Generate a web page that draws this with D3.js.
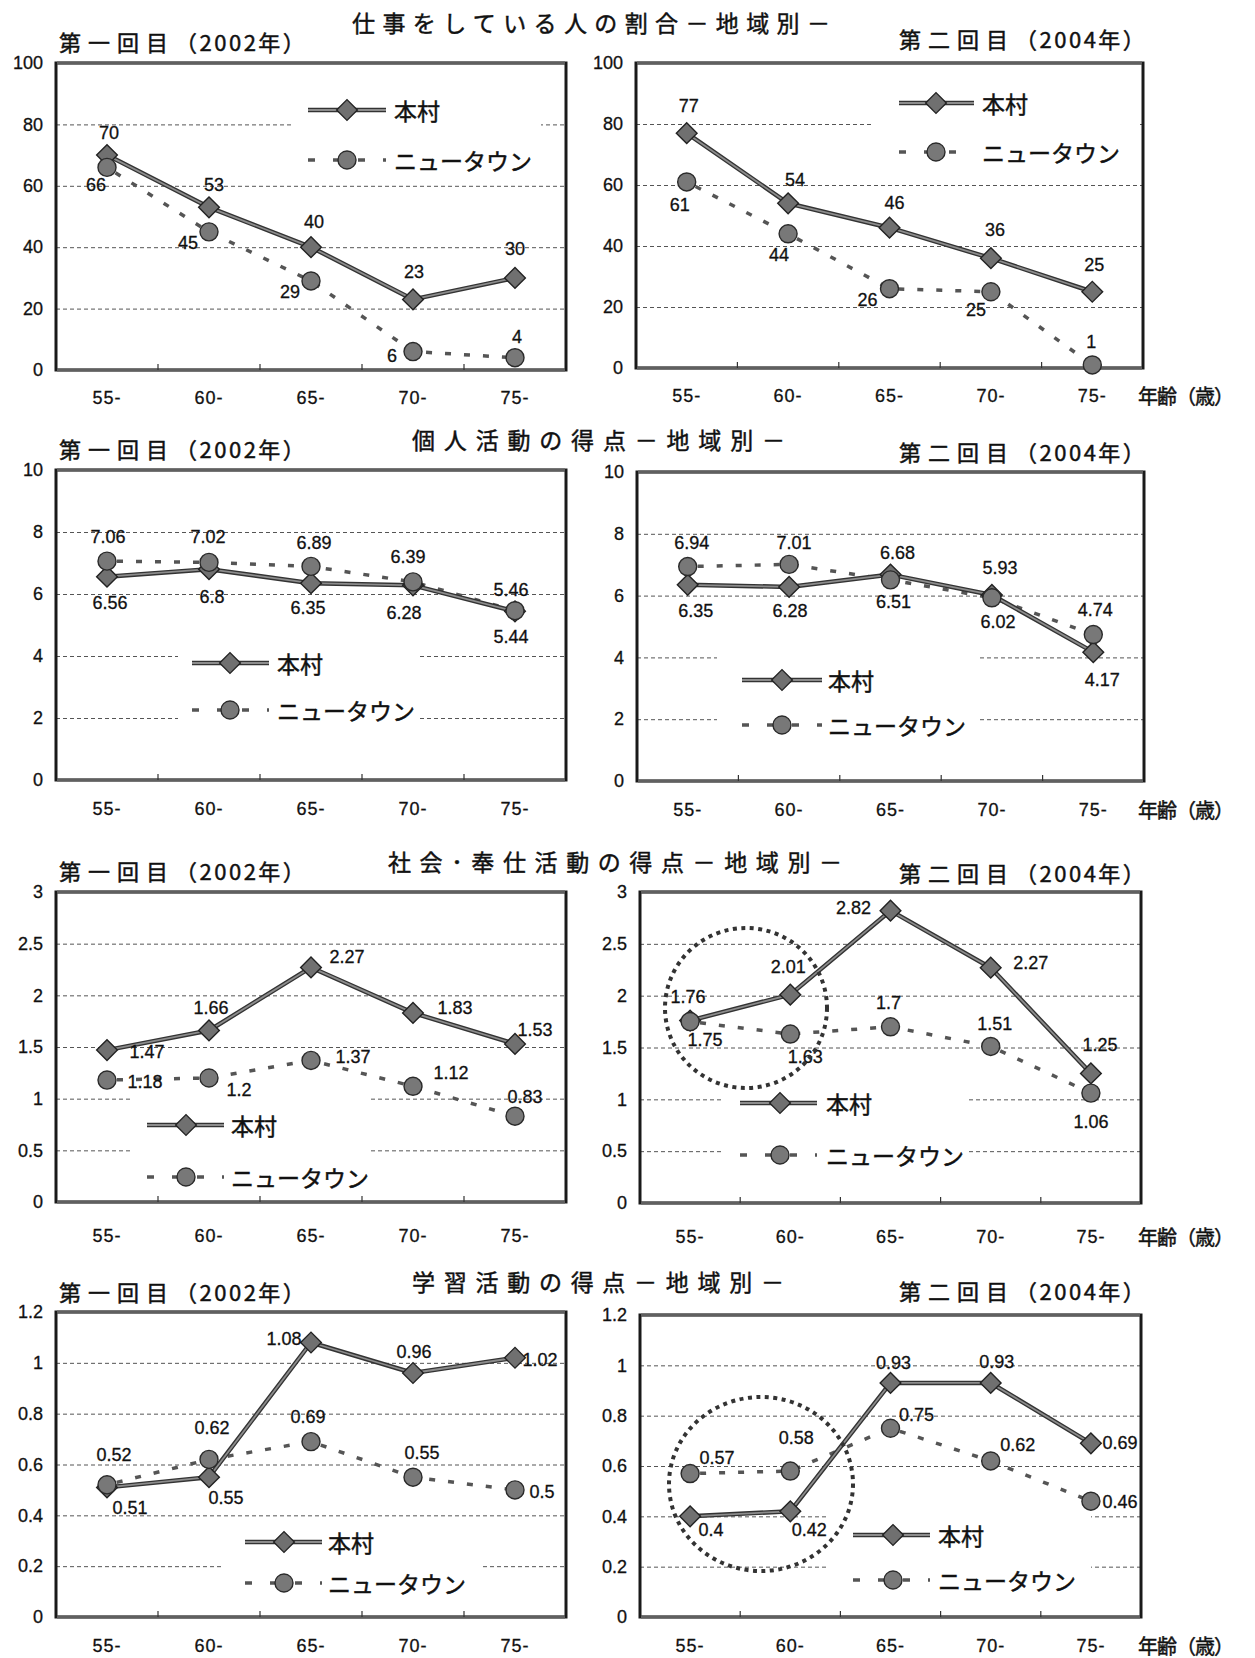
<!DOCTYPE html>
<html><head><meta charset="utf-8">
<script src="https://cdn.jsdelivr.net/npm/d3@7"></script>
<style>body{margin:0;background:#fff} svg{display:block}</style>
</head><body>
<svg id="c" width="1255" height="1658"></svg>
<script>
// ---------------- data ----------------
const ages = ["55-","60-","65-","70-","75-"];
const seriesNames = ["本村","ニュータウン"];
const work2002Honmura = [70,53,40,23,30];
const work2002Newtown = [66,45,29,6,4];
const work2004Honmura = [77,54,46,36,25];
const work2004Newtown = [61,44,26,25,1];
const personal2002Honmura = [6.56,6.8,6.35,6.28,5.44];
const personal2002Newtown = [7.06,7.02,6.89,6.39,5.46];
const personal2004Honmura = [6.35,6.28,6.68,6.02,4.17];
const personal2004Newtown = [6.94,7.01,6.51,5.93,4.74];
const social2002Honmura = [1.47,1.66,2.27,1.83,1.53];
const social2002Newtown = [1.18,1.2,1.37,1.12,0.83];
const social2004Honmura = [1.76,2.01,2.82,2.27,1.25];
const social2004Newtown = [1.75,1.63,1.7,1.51,1.06];
const learn2002Honmura = [0.51,0.55,1.08,0.96,1.02];
const learn2002Newtown = [0.52,0.62,0.69,0.55,0.5];
const learn2004Honmura = [0.4,0.42,0.93,0.93,0.69];
const learn2004Newtown = [0.57,0.58,0.75,0.62,0.46];
const ticksWork = [0,20,40,60,80,100];
const ticksPersonal = [0,2,4,6,8,10];
const ticksSocial = [0,0.5,1,1.5,2,2.5,3];
const ticksLearn = [0,0.2,0.4,0.6,0.8,1,1.2];
const chartTitles = ["仕事をしている人の割合－地域別－","個人活動の得点－地域別－","社会･奉仕活動の得点－地域別－","学習活動の得点－地域別－"];
const roundWords = ["第一回目","第二回目"];
const roundYears = ["（2002年）","（2004年）"];
const axisLabel = "年齢（歳）";

// ---------------- layout (positions / styles) ----------------
const rows = [
  {title:{x:352,w:478,cy:22}, sub:[41,38], xlab:27},
  {title:{x:412,w:373,cy:439}, sub:[448,451], xlab:28},
  {title:{x:388,w:454,cy:861}, sub:[870,872], xlab:33},
  {title:{x:412,w:372,cy:1281}, sub:[1291,1290], xlab:28}
];
const panels = [
  {row:0,col:0,box:[56,566,63,370],hon:work2002Honmura,nt:work2002Newtown,ticks:ticksWork,
   honLbl:[[2,-22],[5,-22],[3,-25],[1,-27],[0,-29]],
   ntLbl:[[-11,18],[-21,11],[-21,11],[-21,4],[2,-21]],
   leg:{l0:308,l1:386,m:347,t:394,y1:110,y2:160,bg:[294,80,247,98]}},
  {row:0,col:1,box:[636,1143,63,368],hon:work2004Honmura,nt:work2004Newtown,ticks:ticksWork,
   honLbl:[[2,-27],[7,-23],[5,-25],[4,-28],[2,-27]],
   ntLbl:[[-7,23],[-9,21],[-22,11],[-15,18],[-1,-23]],
   leg:{l0:899,l1:974,m:936,t:982,y1:103,y2:152,bg:[874,78,263,98]}},
  {row:1,col:0,box:[56,566,470,780],hon:personal2002Honmura,nt:personal2002Newtown,ticks:ticksPersonal,
   honLbl:[[3,26],[3,28],[-3,25],[-9,28],[-4,26]],
   ntLbl:[[1,-24],[-1,-25],[3,-23],[-5,-25],[-4,-21]],
   leg:{l0:192,l1:269,m:230,t:277,y1:663,y2:710,bg:[178,632,242,112]}},
  {row:1,col:1,box:[637,1144,472,781],hon:personal2004Honmura,nt:personal2004Newtown,ticks:ticksPersonal,
   honLbl:[[8,26],[1,24],[7,-22],[6,27],[9,28]],
   ntLbl:[[4,-24],[5,-21],[3,22],[8,-30],[2,-25]],
   leg:{l0:742,l1:822,m:782,t:828,y1:680,y2:725,bg:[717,642,263,108]}},
  {row:2,col:0,box:[56,566,892,1202],hon:social2002Honmura,nt:social2002Newtown,ticks:ticksSocial,
   honLbl:[[40,2],[2,-22],[36,-10],[42,-5],[20,-14]],
   ntLbl:[[38,2],[30,12],[42,-3],[38,-13],[10,-19]],
   leg:{l0:147,l1:224,m:186,t:231,y1:1125,y2:1177,bg:[131,1093,240,107]}},
  {row:2,col:1,box:[640,1141,892,1203],hon:social2004Honmura,nt:social2004Newtown,ticks:ticksSocial,
   honLbl:[[-2,-24],[-2,-28],[-37,-3],[40,-5],[9,-28]],
   ntLbl:[[15,18],[15,23],[-2,-24],[4,-22],[0,29]],
   leg:{l0:740,l1:817,m:780,t:826,y1:1103,y2:1155,bg:[721,1085,247,110]},
   ring:[746,1008,81,80]},
  {row:3,col:0,box:[56,566,1312,1617],hon:learn2002Honmura,nt:learn2002Newtown,ticks:ticksLearn,
   honLbl:[[23,21],[17,21],[-27,-4],[1,-21],[25,2]],
   ntLbl:[[7,-30],[3,-31],[-3,-25],[9,-24],[27,2]],
   leg:{l0:245,l1:322,m:284,t:328,y1:1542,y2:1583,bg:[222,1521,261,86]}},
  {row:3,col:1,box:[640,1141,1315,1617],hon:learn2004Honmura,nt:learn2004Newtown,ticks:ticksLearn,
   honLbl:[[21,14],[19,19],[3,-20],[6,-21],[29,0]],
   ntLbl:[[27,-16],[6,-33],[26,-13],[27,-16],[29,1]],
   leg:{l0:853,l1:930,m:893,t:938,y1:1535,y2:1580,bg:[828,1496,263,110]},
   ring:[761,1484,92,87]}
];
const subX = [59,899];
const CJK = "'Noto Sans CJK JP','Noto Sans CJK SC',sans-serif";
const NUM = "'Liberation Sans','Arial',sans-serif";
const fmt = v => String(+v.toFixed(2));

const svg = d3.select("#c");
svg.append("rect").attr("width",1255).attr("height",1658).attr("fill","#fff");

function cjkText(sel){
  return sel.style("font-family",CJK).attr("fill","#111").attr("stroke","#111").attr("stroke-width",0.45);
}
function numText(sel){
  return sel.style("font-family",NUM).style("font-size","18px").attr("fill","#111").attr("stroke","#111").attr("stroke-width",0.3);
}

// titles
rows.forEach((r,ri)=>{
  cjkText(svg.append("text").text(chartTitles[ri])
    .attr("x",r.title.x).attr("y",r.title.cy).attr("dominant-baseline","central")
    .attr("textLength",r.title.w).attr("lengthAdjust","spacing")
    .style("font-size","23px"));
  [0,1].forEach(c=>{
    const t = cjkText(svg.append("text").attr("x",subX[c]).attr("y",r.sub[c]).attr("dominant-baseline","central")
      .style("font-size","22px"));
    t.append("tspan").text(roundWords[c]).attr("letter-spacing","7px");
    t.append("tspan").text(roundYears[c]).attr("letter-spacing","2.5px");
  });
  const p = panels[ri*2+1];
  cjkText(svg.append("text").text(axisLabel)
    .attr("x",1138).attr("y",p.box[3]+r.xlab).attr("dominant-baseline","central")
    .attr("textLength",96).attr("lengthAdjust","spacing")
    .style("font-size","20px"));
});

function drawHonLine(g, pts){
  const line = d3.line();
  g.append("path").attr("d",line(pts)).attr("fill","none").attr("stroke","#333").attr("stroke-width",4.5).attr("stroke-linejoin","round");
  g.append("path").attr("d",line(pts)).attr("fill","none").attr("stroke","#8c8c8c").attr("stroke-width",1.8).attr("stroke-linejoin","round");
}
function drawNtLine(g, pts){
  g.append("path").attr("d",d3.line()(pts)).attr("fill","none").attr("stroke","#555").attr("stroke-width",3.5)
    .attr("stroke-dasharray","6 13").attr("stroke-dashoffset",-10);
}
const diamond = d3.symbol(d3.symbolSquare,215);
const circle = d3.symbol(d3.symbolCircle,255);
function drawDiamond(g,x,y){
  g.append("path").attr("d",diamond()).attr("transform",`translate(${x},${y}) rotate(45)`)
    .attr("fill","#707070").attr("stroke","#222").attr("stroke-width",1.4);
}
function drawCircle(g,x,y){
  g.append("path").attr("d",circle()).attr("transform",`translate(${x},${y})`)
    .attr("fill","#787878").attr("stroke","#2a2a2a").attr("stroke-width",1.4);
}

panels.forEach(p=>{
  const [x0,x1,y0,y1] = p.box;
  const g = svg.append("g");
  const xs = d3.scaleBand().domain(ages).range([x0,x1]).padding(0);
  const ymax = d3.max(p.ticks);
  const ys = d3.scaleLinear().domain([0,ymax]).range([y1,y0]);
  const cx = a => xs(a)+xs.bandwidth()/2;

  // gridlines
  const grid = g.append("g").attr("transform",`translate(${x0},0)`)
    .call(d3.axisLeft(ys).tickValues(p.ticks.filter(t=>t>0&&t<ymax)).tickSize(-(x1-x0)).tickFormat(""));
  grid.select(".domain").remove();
  grid.selectAll("line").attr("stroke","#555").attr("stroke-width",1).attr("stroke-dasharray","4 3");

  // y labels
  const ya = g.append("g").attr("transform",`translate(${x0},0)`)
    .call(d3.axisLeft(ys).tickValues(p.ticks).tickSize(0).tickPadding(13).tickFormat(fmt));
  ya.select(".domain").remove();
  numText(ya.selectAll("text"));

  // x labels
  const xa = g.append("g").attr("transform",`translate(0,${y1})`)
    .call(d3.axisBottom(xs).tickSize(0).tickPadding(rows[p.row].xlab-6));
  xa.select(".domain").remove();
  numText(xa.selectAll("text")).attr("letter-spacing","1px");

  // legend background
  const L = p.leg;
  g.append("rect").attr("x",L.bg[0]).attr("y",L.bg[1]).attr("width",L.bg[2]).attr("height",L.bg[3]).attr("fill","#fff");

  // frame
  g.append("rect").attr("x",x0).attr("y",y0).attr("width",x1-x0).attr("height",y1-y0)
    .attr("fill","none").attr("stroke","#1a1a1a").attr("stroke-width",3);
  [y0,y1].forEach(yy=>g.append("line").attr("x1",x0+1).attr("x2",x1-1).attr("y1",yy).attr("y2",yy)
    .attr("stroke","#606060").attr("stroke-width",3));
  // band separator ticks
  ages.slice(1).forEach(a=>{
    g.append("line").attr("x1",xs(a)).attr("x2",xs(a)).attr("y1",y1).attr("y2",y1-6).attr("stroke","#333").attr("stroke-width",1.2);
  });

  // series
  const honPts = ages.map((a,i)=>[cx(a),ys(p.hon[i])]);
  const ntPts = ages.map((a,i)=>[cx(a),ys(p.nt[i])]);
  drawNtLine(g, ntPts);
  drawHonLine(g, honPts);
  honPts.forEach(d=>drawDiamond(g,d[0],d[1]));
  ntPts.forEach(d=>drawCircle(g,d[0],d[1]));

  // labels
  const lab = (pts,vals,offs)=>pts.forEach((d,i)=>{
    numText(g.append("text").text(fmt(vals[i])).attr("x",d[0]+offs[i][0]).attr("y",d[1]+offs[i][1])
      .attr("text-anchor","middle").attr("dominant-baseline","central"));
  });
  lab(honPts,p.hon,p.honLbl);
  lab(ntPts,p.nt,p.ntLbl);

  // legend
  drawHonLine(g,[[L.l0,L.y1],[L.l1,L.y1]]);
  drawDiamond(g,L.m,L.y1);
  g.append("path").attr("d",d3.line()([[L.l0,L.y2],[L.l1,L.y2]])).attr("fill","none").attr("stroke","#555")
    .attr("stroke-width",3.5).attr("stroke-dasharray","7 18");
  drawCircle(g,L.m,L.y2);
  [[L.y1,seriesNames[0]],[L.y2,seriesNames[1]]].forEach(([yy,t])=>{
    cjkText(g.append("text").text(t).attr("x",L.t).attr("y",yy).attr("dominant-baseline","central")
      .style("font-size","23px"));
  });

  // dotted highlight ring
  if(p.ring){
    g.append("ellipse").attr("cx",p.ring[0]).attr("cy",p.ring[1]).attr("rx",p.ring[2]).attr("ry",p.ring[3])
      .attr("fill","none").attr("stroke","#333").attr("stroke-width",4).attr("stroke-dasharray","4 4.5");
  }
});
</script>
</body></html>
